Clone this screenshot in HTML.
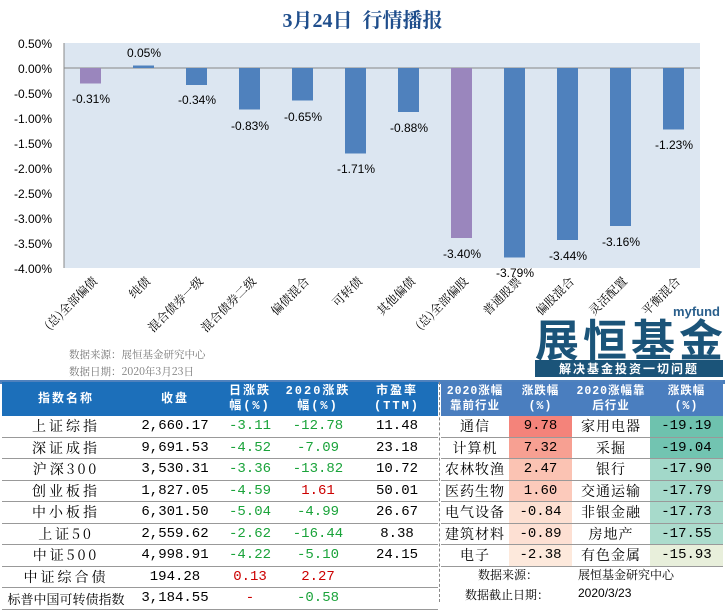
<!DOCTYPE html>
<html><head><meta charset="utf-8"><style>
body{margin:0;width:725px;height:602px;background:#fff;overflow:hidden;position:relative;font-family:"Liberation Sans","Noto Sans CJK SC",sans-serif}
.abs{position:absolute}
table{border-collapse:collapse;position:absolute;font-family:"Liberation Mono","Noto Sans CJK SC",monospace;table-layout:fixed}
td{height:20.5px;padding:0;text-align:center;font-size:14px;border-bottom:1px solid #999;white-space:nowrap;overflow:hidden}
td.n{letter-spacing:3px;font-family:"Noto Serif CJK SC",serif}
.rt td.n{letter-spacing:1px}
th{background:#1c6fba;color:#fff;font-size:12px;font-weight:bold;height:34px;padding:0;line-height:15px;letter-spacing:2px;white-space:nowrap;overflow:hidden}
.rt th{letter-spacing:1px;font-size:11.5px}
.g{color:#1aa33a}.r{color:#c00}
</style></head><body>
<div class="abs" style="left:0;top:4px;width:725px;text-align:center;font-size:20px;font-weight:bold;color:#1f4e8c;font-family:'Liberation Serif','Noto Serif CJK SC',serif">3月24日&nbsp;&nbsp;行情播报</div>
<svg class="abs" style="left:0;top:0" width="725" height="380">
<rect x="64" y="43" width="636" height="225" fill="#dce6f1"/>
<line x1="64" y1="43" x2="64" y2="268" stroke="#888"/>
<line x1="64" y1="68" x2="700" y2="68" stroke="#888"/>
<g font-size="12" text-anchor="end" fill="#000">
<text x="52" y="48">0.50%</text><text x="52" y="73">0.00%</text><text x="52" y="98">-0.50%</text><text x="52" y="123">-1.00%</text><text x="52" y="148">-1.50%</text><text x="52" y="173">-2.00%</text><text x="52" y="198">-2.50%</text><text x="52" y="223">-3.00%</text><text x="52" y="248">-3.50%</text><text x="52" y="273">-4.00%</text>
</g>
<g>
<rect x="80" y="68" width="21" height="15.5" fill="#9a86bd"/>
<rect x="133" y="65.5" width="21" height="2.5" fill="#4f81bd"/>
<rect x="186" y="68" width="21" height="17" fill="#4f81bd"/>
<rect x="239" y="68" width="21" height="41.5" fill="#4f81bd"/>
<rect x="292" y="68" width="21" height="32.5" fill="#4f81bd"/>
<rect x="345" y="68" width="21" height="85.5" fill="#4f81bd"/>
<rect x="398" y="68" width="21" height="44" fill="#4f81bd"/>
<rect x="451" y="68" width="21" height="170" fill="#9a86bd"/>
<rect x="504" y="68" width="21" height="189.5" fill="#4f81bd"/>
<rect x="557" y="68" width="21" height="172" fill="#4f81bd"/>
<rect x="610" y="68" width="21" height="158" fill="#4f81bd"/>
<rect x="663" y="68" width="21" height="61.5" fill="#4f81bd"/>
</g>
<g font-size="12" text-anchor="middle">
<text x="91" y="103">-0.31%</text><text x="144" y="57">0.05%</text><text x="197" y="104">-0.34%</text><text x="250" y="130">-0.83%</text><text x="303" y="121">-0.65%</text><text x="356" y="173">-1.71%</text><text x="409" y="132">-0.88%</text><text x="462" y="258">-3.40%</text><text x="515" y="277">-3.79%</text><text x="568" y="260">-3.44%</text><text x="621" y="246">-3.16%</text><text x="674" y="149">-1.23%</text>
</g>
<g font-size="12" text-anchor="end" font-family="'Noto Serif CJK SC',serif" fill="#000">
<text transform="translate(98,282) rotate(-45)">(总)全部偏债</text>
<text transform="translate(151,282) rotate(-45)">纯债</text>
<text transform="translate(204,282) rotate(-45)">混合债券一级</text>
<text transform="translate(257,282) rotate(-45)">混合债券二级</text>
<text transform="translate(310,282) rotate(-45)">偏债混合</text>
<text transform="translate(363,282) rotate(-45)">可转债</text>
<text transform="translate(416,282) rotate(-45)">其他偏债</text>
<text transform="translate(469,282) rotate(-45)">(总)全部偏股</text>
<text transform="translate(522,282) rotate(-45)">普通股票</text>
<text transform="translate(575,282) rotate(-45)">偏股混合</text>
<text transform="translate(628,282) rotate(-45)">灵活配置</text>
<text transform="translate(681,282) rotate(-45)">平衡混合</text>
</g>
<g font-size="10.5" fill="#777" font-family="'Noto Serif CJK SC',serif">
<text x="69" y="358">数据来源：展恒基金研究中心</text>
<text x="69" y="375">数据日期：2020年3月23日</text>
</g>
<text x="720" y="316" text-anchor="end" font-size="13" font-weight="bold" fill="#2a5f8c">myfund</text>
<text x="723" y="356" text-anchor="end" font-size="44" font-weight="bold" fill="#1b5479" font-family="'Noto Sans CJK SC',sans-serif" textLength="188">展恒基金</text>
<rect x="535" y="360" width="188" height="17" fill="#1b5479"/>
<text x="629" y="373" text-anchor="middle" font-size="12" fill="#fff" font-weight="bold" letter-spacing="2">解决基金投资一切问题</text>
</svg>
<div class="abs" style="left:0;top:380px;width:725px;height:4px;background:#4f81bd"></div>
<table style="left:2px;top:382px;width:436px">
<colgroup><col style="width:128px"><col style="width:90px"><col style="width:60px"><col style="width:76px"><col></colgroup>
<tr><th>指数名称</th><th>收盘</th><th>日涨跌<br>幅(%)</th><th>2020涨跌<br>幅(%)</th><th>市盈率<br>(TTM)</th></tr>
<tr><td class="n">上证综指</td><td>2,660.17</td><td class="g">-3.11</td><td class="g">-12.78</td><td>11.48</td></tr>
<tr><td class="n">深证成指</td><td>9,691.53</td><td class="g">-4.52</td><td class="g">-7.09</td><td>23.18</td></tr>
<tr><td class="n">沪深300</td><td>3,530.31</td><td class="g">-3.36</td><td class="g">-13.82</td><td>10.72</td></tr>
<tr><td class="n">创业板指</td><td>1,827.05</td><td class="g">-4.59</td><td class="r">1.61</td><td>50.01</td></tr>
<tr><td class="n">中小板指</td><td>6,301.50</td><td class="g">-5.04</td><td class="g">-4.99</td><td>26.67</td></tr>
<tr><td class="n">上证50</td><td>2,559.62</td><td class="g">-2.62</td><td class="g">-16.44</td><td>8.38</td></tr>
<tr><td class="n">中证500</td><td>4,998.91</td><td class="g">-4.22</td><td class="g">-5.10</td><td>24.15</td></tr>
<tr><td class="n">中证综合债</td><td>194.28</td><td class="r">0.13</td><td class="r">2.27</td><td></td></tr>
<tr><td class="n" style="letter-spacing:0;font-size:13px">标普中国可转债指数</td><td>3,184.55</td><td class="r">-</td><td class="g">-0.58</td><td></td></tr>
</table>
<div class="abs" style="left:439px;top:382px;height:220px;border-left:1px dashed #888"></div>
<table class="rt" style="left:441px;top:382px;width:282px">
<colgroup><col style="width:68px"><col style="width:63px"><col style="width:78px"><col></colgroup>
<tr><th style="background:#4a7ebf">2020涨幅<br>靠前行业</th><th style="background:#4a7ebf">涨跌幅<br>(%)</th><th style="background:#4a7ebf">2020涨幅靠<br>后行业</th><th style="background:#4a7ebf">涨跌幅<br>(%)</th></tr>
<tr><td class="n">通信</td><td style="background:#f4837a">9.78</td><td class="n">家用电器</td><td style="background:#6ec2ae">-19.19</td></tr>
<tr><td class="n">计算机</td><td style="background:#f7a092">7.32</td><td class="n">采掘</td><td style="background:#72c4b1">-19.04</td></tr>
<tr><td class="n">农林牧渔</td><td style="background:#fbc3b3">2.47</td><td class="n">银行</td><td style="background:#a2d8c9">-17.90</td></tr>
<tr><td class="n">医药生物</td><td style="background:#fccabb">1.60</td><td class="n">交通运输</td><td style="background:#a5d9ca">-17.79</td></tr>
<tr><td class="n">电气设备</td><td style="background:#fde0d2">-0.84</td><td class="n">非银金融</td><td style="background:#a7dacb">-17.73</td></tr>
<tr><td class="n">建筑材料</td><td style="background:#fde0d3">-0.89</td><td class="n">房地产</td><td style="background:#acdccd">-17.55</td></tr>
<tr><td class="n">电子</td><td style="background:#fde9dc">-2.38</td><td class="n">有色金属</td><td style="background:#e8efdb">-15.93</td></tr>
</table>
<div class="abs" style="left:478px;top:566px;font-size:12px;font-family:'Noto Serif CJK SC',serif">数据来源：</div>
<div class="abs" style="left:578px;top:566px;font-size:12px;font-family:'Noto Serif CJK SC',serif">展恒基金研究中心</div>
<div class="abs" style="left:465px;top:586px;font-size:12px;font-family:'Noto Serif CJK SC',serif">数据截止日期：</div>
<div class="abs" style="left:578px;top:586px;font-size:12px">2020/3/23</div>
</body></html>
